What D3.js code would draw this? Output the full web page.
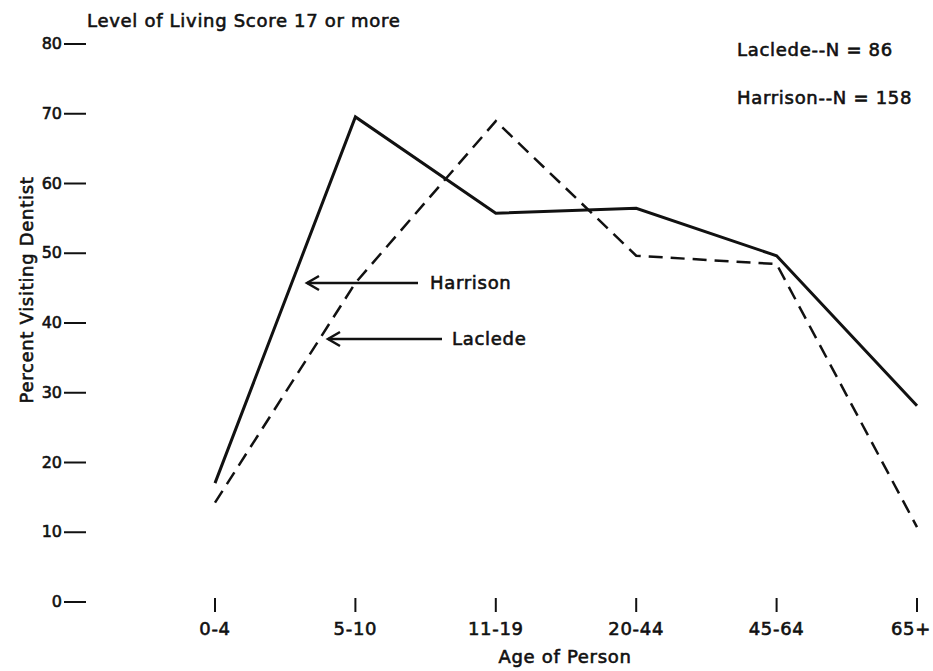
<!DOCTYPE html>
<html>
<head>
<meta charset="utf-8">
<script src="https://cdn.jsdelivr.net/npm/d3@7"></script>
<style>
  body { margin: 0; background: #fff; }
  text { font-family: "DejaVu Sans", sans-serif; fill: #111; stroke: #111; stroke-width: 0.6px; font-size: 18px; letter-spacing: 0.7px; }
  .y-axis text { font-size: 16px; letter-spacing: 0; }
</style>
</head>
<body>
<div id="chart"></div>
<script>
// Data
const ageGroups = ["0-4", "5-10", "11-19", "20-44", "45-64", "65+"];
const harrison = [16.9, 69.4, 55.6, 56.3, 49.5, 28.0];
const laclede = [14.1, 45.6, 68.8, 49.5, 48.3, 10.6];
const yTicks = [0, 10, 20, 30, 40, 50, 60, 70, 80];

const W = 933, H = 671;

const svg = d3.select("#chart")
    .append("svg")
    .attr("width", W)
    .attr("height", H);

// Scales
const x = d3.scalePoint()
    .domain(ageGroups)
    .range([215, 917]);

const y = d3.scaleLinear()
    .domain([0, 80])
    .range([601, 43]);

// Y axis: numbers followed by short dashes, no spine
const yAxis = svg.append("g").attr("class", "y-axis");
yTicks.forEach(t => {
    yAxis.append("text")
        .attr("x", 62)
        .attr("y", y(t) + 6)
        .attr("text-anchor", "end")
        .text(t);
    yAxis.append("line")
        .attr("x1", 64)
        .attr("x2", 86)
        .attr("y1", y(t) + 1)
        .attr("y2", y(t) + 1)
        .attr("stroke", "#111")
        .attr("stroke-width", 2);
});

// X axis: small vertical ticks with labels below
const xAxis = svg.append("g").attr("class", "x-axis");
ageGroups.forEach(g => {
    xAxis.append("line")
        .attr("x1", x(g))
        .attr("x2", x(g))
        .attr("y1", 598)
        .attr("y2", 612)
        .attr("stroke", "#111")
        .attr("stroke-width", 2);
    const lbl = xAxis.append("text")
        .attr("x", x(g))
        .attr("y", 635)
        .attr("text-anchor", "middle")
        .text(g);
    // keep the last label inside the picture
    const bb = lbl.node().getBBox();
    if (bb.x + bb.width > W - 2) lbl.attr("x", x(g) - (bb.x + bb.width - (W - 2)));
});

// Axis titles
svg.append("text")
    .attr("x", 565)
    .attr("y", 663)
    .attr("text-anchor", "middle")
    .text("Age of Person");

svg.append("text")
    .attr("transform", "rotate(-90)")
    .attr("x", -290)
    .attr("y", 33)
    .attr("text-anchor", "middle")
    .text("Percent Visiting Dentist");

// Title and N counts
svg.append("text")
    .attr("x", 87)
    .attr("y", 27)
    .text("Level of Living Score 17 or more");

svg.append("text")
    .attr("x", 737)
    .attr("y", 56)
    .text("Laclede--N = 86");

svg.append("text")
    .attr("x", 737)
    .attr("y", 104)
    .text("Harrison--N = 158");

// Lines
const line = d3.line()
    .x((d, i) => x(ageGroups[i]))
    .y(d => y(d));

svg.append("path")
    .datum(harrison)
    .attr("d", line)
    .attr("fill", "none")
    .attr("stroke", "#111")
    .attr("stroke-width", 3)
    .attr("stroke-linejoin", "miter");

svg.append("path")
    .datum(laclede)
    .attr("d", line)
    .attr("fill", "none")
    .attr("stroke", "#111")
    .attr("stroke-width", 2.5)
    .attr("stroke-dasharray", "14,8");

// Arrow annotations
function arrow(x1, x2, yy) {
    svg.append("line")
        .attr("x1", x1).attr("x2", x2)
        .attr("y1", yy).attr("y2", yy)
        .attr("stroke", "#111").attr("stroke-width", 2.5);
    svg.append("path")
        .attr("d", `M${x2 + 12},${yy - 7} L${x2},${yy} L${x2 + 12},${yy + 7}`)
        .attr("fill", "none")
        .attr("stroke", "#111")
        .attr("stroke-width", 2.5);
}

arrow(418, 307, 283);
svg.append("text")
    .attr("x", 430)
    .attr("y", 289)
    .text("Harrison");

arrow(442, 328, 339);
svg.append("text")
    .attr("x", 452)
    .attr("y", 345)
    .text("Laclede");
</script>
</body>
</html>
